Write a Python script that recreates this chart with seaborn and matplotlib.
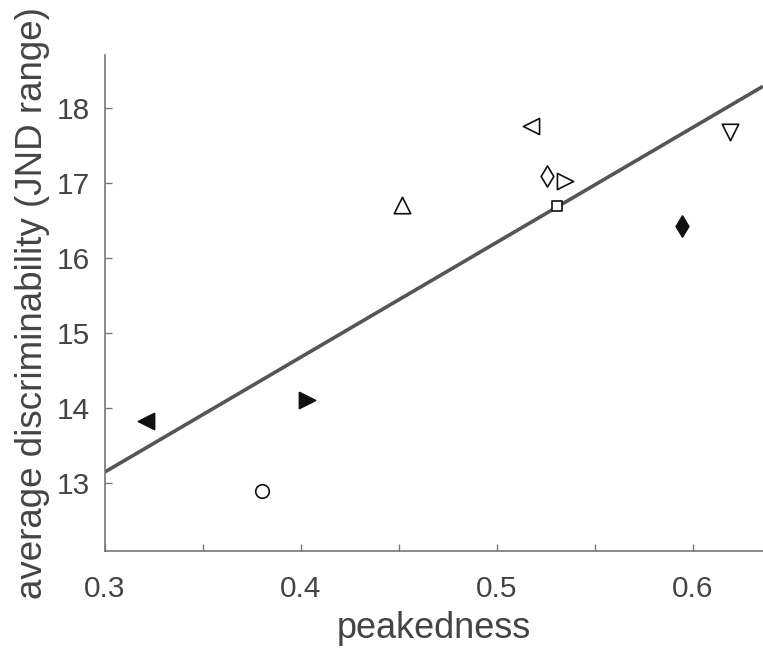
import matplotlib
matplotlib.use("Agg")
import matplotlib.pyplot as plt
import seaborn as sns
import pandas as pd
import numpy as np

# data
peakedness = [0.3208, 0.380, 0.4029, 0.4513, 0.5173, 0.5255, 0.5347, 0.5304, 0.5944, 0.6189]
discrim = [13.82, 12.89, 14.11, 16.71, 17.76, 17.09, 17.03, 16.70, 16.43, 17.68]
markers = ['<', 'o', '>', '^', '<', 'd', '>', 's', 'd', 'v']
filled = [True, False, True, False, False, False, False, False, True, False]
xticks = [0.3, 0.35, 0.4, 0.45, 0.5, 0.55, 0.6]
xticklabels = ["0.3", "", "0.4", "", "0.5", "", "0.6"]
yticks = [13, 14, 15, 16, 17, 18]

df = pd.DataFrame({"peakedness": peakedness, "discrim": discrim,
                   "marker": markers, "filled": filled})

sns.set_style("ticks")
plt.rcParams['font.family'] = ['Liberation Sans', 'DejaVu Sans']

fig = plt.figure(figsize=(7.63, 6.58), dpi=100)
ax = fig.add_axes([0.1376, 0.1626, 0.8624, 0.7538])
ax.set_xlim(0.3, 0.6357)
ax.set_ylim(12.09, 18.71)

sns.regplot(data=df, x="peakedness", y="discrim", ax=ax, scatter=False,
            ci=None, truncate=False, color="#555555",
            line_kws={"linewidth": 2.6, "solid_capstyle": "butt"})

msize = {'<': 135, '>': 135, '^': 140, 'v': 140, 'd': 115, 's': 55, 'o': 95}
for _, r in df.iterrows():
    sns.scatterplot(x=[r.peakedness], y=[r.discrim], ax=ax, marker=r.marker,
                    s=msize[r.marker],
                    facecolor="#111111" if r.filled else "white",
                    edgecolor="#111111", linewidth=1.2, zorder=3)

ax.set_xlim(0.3, 0.6357)
ax.set_ylim(12.09, 18.71)
ax.set_xticks(xticks)
ax.set_xticklabels(xticklabels)
ax.set_yticks(yticks)
ax.set_yticklabels([str(v) for v in yticks])

ax.set_xlabel("peakedness", fontsize=26, color="#444444", labelpad=6)
ax.set_ylabel("average discriminability (JND range)", fontsize=26.5,
              color="#444444")
ax.yaxis.set_label_coords(-0.083, 0.5)
ax.tick_params(axis='both', direction='in', length=5, width=1,
               color="#777777", labelsize=21.5, labelcolor="#444444")
ax.tick_params(axis='x', pad=17)
ax.tick_params(axis='y', pad=11)
sns.despine(ax=ax)
for s in ["left", "bottom"]:
    ax.spines[s].set_color("#777777")
    ax.spines[s].set_linewidth(1.2)

fig.savefig("out.png", dpi=100, facecolor="white")
